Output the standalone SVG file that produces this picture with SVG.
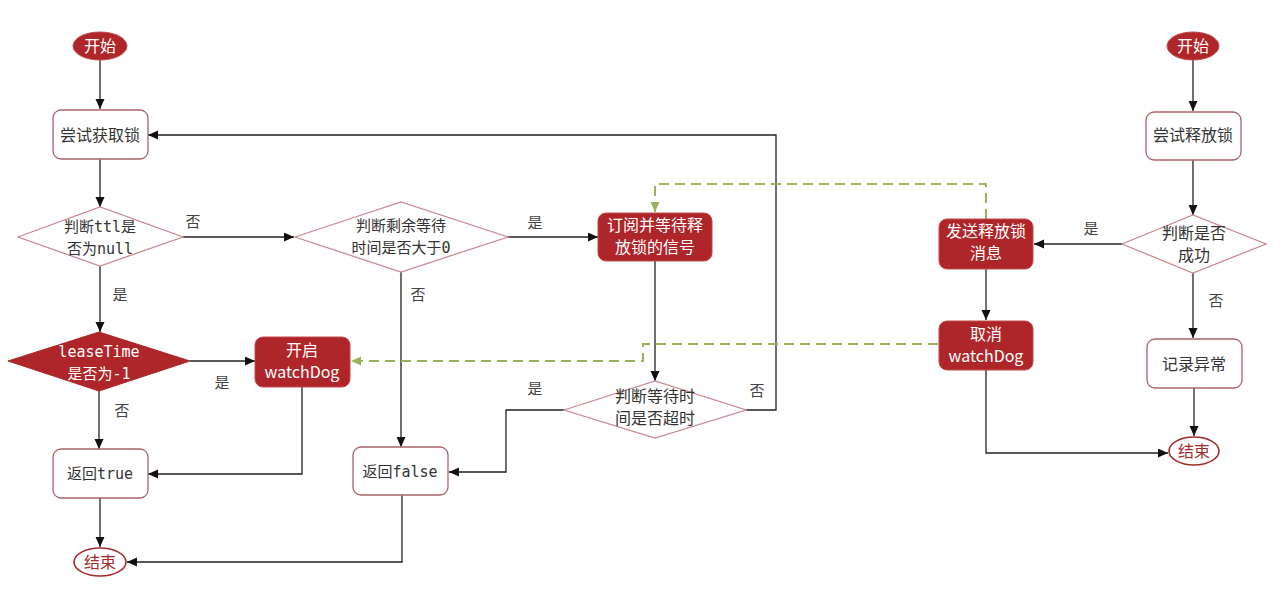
<svg xmlns="http://www.w3.org/2000/svg" width="1285" height="595" viewBox="0 0 1285 595">
<defs>
<marker id="ar" markerUnits="userSpaceOnUse" markerWidth="11" markerHeight="10" refX="10" refY="4.5" orient="auto"><path d="M0,0 L10,4.5 L0,9 z" fill="#111"/></marker>
<marker id="ag" markerUnits="userSpaceOnUse" markerWidth="11" markerHeight="10" refX="10" refY="4.5" orient="auto"><path d="M0,0 L10,4.5 L0,9 z" fill="#9ab35a"/></marker>
<style>
.box{fill:#fff;stroke:#a8646a;stroke-width:1.3}
.dia{fill:#fff;stroke:#c98a90;stroke-width:1.3}
.red{fill:#ae2629;stroke:#c24a4d;stroke-width:1}
.endE{fill:#fff;stroke:#a52a2a;stroke-width:1.6}
.t{font-family:"Noto Sans CJK SC","Noto Sans",sans-serif;font-size:16px;fill:#333;text-anchor:middle}
.m{font-family:"DejaVu Sans Mono","Noto Sans CJK SC",monospace;font-size:15px;fill:#333;text-anchor:middle}
.w{fill:#fff}
.rt{fill:#a52a2a}
.lb{font-family:"Noto Sans CJK SC",sans-serif;font-size:15px;fill:#444;text-anchor:middle}
.c{fill:none;stroke:#222;stroke-width:1.3}
.g{fill:none;stroke:#9ab35a;stroke-width:2;stroke-dasharray:10,6}
</style>
</defs>
<rect width="1285" height="595" fill="#fff"/>
<g id="connectors">
<path class="c" d="M100,60 V109" marker-end="url(#ar)"/>
<path class="c" d="M100,159 V207" marker-end="url(#ar)"/>
<path class="c" d="M183,237 H294" marker-end="url(#ar)"/>
<path class="c" d="M100,266 V332" marker-end="url(#ar)"/>
<path class="c" d="M190,361 H255" marker-end="url(#ar)"/>
<path class="c" d="M99,391 V449" marker-end="url(#ar)"/>
<path class="c" d="M302,387 V474 H148" marker-end="url(#ar)"/>
<path class="c" d="M100,498 V547" marker-end="url(#ar)"/>
<path class="c" d="M402,495 V562 H127" marker-end="url(#ar)"/>
<path class="c" d="M508,237 H598" marker-end="url(#ar)"/>
<path class="c" d="M401,272 V447" marker-end="url(#ar)"/>
<path class="c" d="M655,261 V381" marker-end="url(#ar)"/>
<path class="c" d="M564,410 H506 V472 H449" marker-end="url(#ar)"/>
<path class="c" d="M746,410 H776 V135 H148" marker-end="url(#ar)"/>
<path class="g" d="M986,219 V184 H655 V212" marker-end="url(#ag)"/>
<path class="g" d="M938,344 H643 V361 H351" marker-end="url(#ag)"/>
<path class="c" d="M1193,60 V111" marker-end="url(#ar)"/>
<path class="c" d="M1193,160 V215" marker-end="url(#ar)"/>
<path class="c" d="M1122,244 H1034" marker-end="url(#ar)"/>
<path class="c" d="M986,269 V320" marker-end="url(#ar)"/>
<path class="c" d="M1193,273 V338" marker-end="url(#ar)"/>
<path class="c" d="M986,370 V453 H1168" marker-end="url(#ar)"/>
<path class="c" d="M1194,388 V436" marker-end="url(#ar)"/>
<text class="lb" x="193" y="227">否</text>
<text class="lb" x="120" y="300">是</text>
<text class="lb" x="222" y="388">是</text>
<text class="lb" x="122" y="416">否</text>
<text class="lb" x="535" y="228">是</text>
<text class="lb" x="418" y="300">否</text>
<text class="lb" x="535" y="394">是</text>
<text class="lb" x="757" y="396">否</text>
<text class="lb" x="1091" y="234">是</text>
<text class="lb" x="1216" y="306">否</text>
</g>
<g id="start1"><ellipse cx="100" cy="46" rx="27" ry="14" class="red"/><text class="t w" x="100" y="51.5" font-size="15">开始</text></g>
<g id="tryLock"><rect x="53" y="110" width="95" height="49" rx="8" class="box"/><text class="t" x="100" y="141">尝试获取锁</text></g>
<g id="ttlNull"><polygon points="18,237 100,207 183,237 100,266" class="dia"/><text class="m" x="100" y="232">判断ttl是</text><text class="m" x="100" y="254">否为null</text></g>
<g id="leaseTime"><polygon points="8,361 99,332 190,361 99,391" fill="#ae2629" stroke="#ae2629"/><text class="m w" x="99" y="357">leaseTime</text><text class="m w" x="99" y="379">是否为-1</text></g>
<g id="startWatchDog"><rect x="255" y="337" width="95" height="50" rx="8" class="red"/><text class="t w" x="302" y="356">开启</text><text class="t w" x="302" y="378">watchDog</text></g>
<g id="returnTrue"><rect x="53" y="449" width="95" height="49" rx="8" class="box"/><text class="m" x="100" y="479">返回true</text></g>
<g id="end1"><ellipse cx="100" cy="562" rx="26" ry="14" class="endE"/><text class="t rt" x="100" y="567.5" font-size="15">结束</text></g>
<g id="remainWait"><polygon points="295,237 401,202 508,237 401,272" class="dia"/><text class="m" x="401" y="231">判断剩余等待</text><text class="m" x="401" y="253">时间是否大于0</text></g>
<g id="subscribe"><rect x="598" y="213" width="114" height="48" rx="8" class="red"/><text class="t w" x="655" y="231">订阅并等待释</text><text class="t w" x="655" y="253">放锁的信号</text></g>
<g id="returnFalse"><rect x="353" y="447" width="95" height="48" rx="8" class="box"/><text class="m" x="400" y="477">返回false</text></g>
<g id="timeout"><polygon points="564,410 655,381 746,410 655,438" class="dia"/><text class="t" x="655" y="402">判断等待时</text><text class="t" x="655" y="424">间是否超时</text></g>
<g id="sendRelease"><rect x="939" y="219" width="94" height="50" rx="8" class="red"/><text class="t w" x="986" y="237">发送释放锁</text><text class="t w" x="986" y="259">消息</text></g>
<g id="cancelWatchDog"><rect x="939" y="321" width="94" height="49" rx="8" class="red"/><text class="t w" x="986" y="340">取消</text><text class="t w" x="986" y="362">watchDog</text></g>
<g id="start2"><ellipse cx="1193" cy="46" rx="26" ry="14" class="red"/><text class="t w" x="1193" y="51.5" font-size="15">开始</text></g>
<g id="tryRelease"><rect x="1146" y="112" width="95" height="48" rx="8" class="box"/><text class="t" x="1193" y="141">尝试释放锁</text></g>
<g id="success"><polygon points="1122,244 1193,215 1266,244 1193,273" class="dia"/><text class="t" x="1194" y="239">判断是否</text><text class="t" x="1194" y="261">成功</text></g>
<g id="logError"><rect x="1147" y="339" width="95" height="49" rx="8" class="box"/><text class="t" x="1194" y="370">记录异常</text></g>
<g id="end2"><ellipse cx="1194" cy="451" rx="25" ry="14" class="endE"/><text class="t rt" x="1194" y="456.5" font-size="15">结束</text></g>
</svg>
